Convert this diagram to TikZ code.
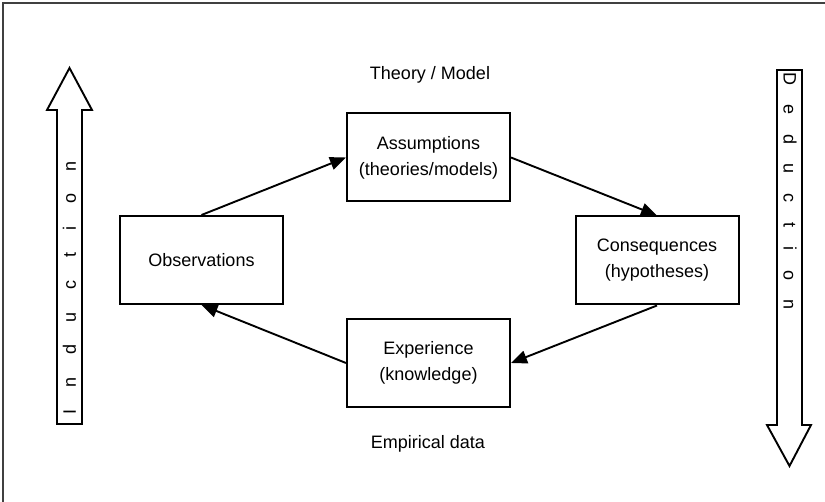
\documentclass[tikz,border=0pt]{standalone}
\usepackage{fontspec}
\setmainfont{Liberation Sans}
\usetikzlibrary{arrows.meta, positioning}

\newcommand{\spreadout}[2]{\foreach \ch [count=\k] in {#2}{\ifnum\k>1\hspace{#1}\fi\ch}}

\begin{document}
\begin{tikzpicture}[x=1pt, y=-1pt,
    stage/.style={draw, line width=2pt, minimum width=163pt, minimum height=88pt, align=center, font=\fontsize{18}{26}\selectfont},
    caption/.style={font=\fontsize{18}{26}\selectfont},
    flow/.style={-{Triangle[length=16pt, width=13pt]}, line width=1.9pt},
    blockarrow/.style={draw, line width=1.9pt, line join=miter}]
    \useasboundingbox (0,0) rectangle (825,502);

    % frame
    \draw[line width=1.5pt, black!75] (825,3) -- (3,3) -- (3,502);

    % the four stages
    \node[stage] (obs) at (201.5,260) {Observations};
    \node[stage] (ass) at (428.5,157.5) {Assumptions\\(theories/models)};
    \node[stage] (con) at (657,260.5) {Consequences\\(hypotheses)};
    \node[stage] (exp) at (428.5,363) {Experience\\(knowledge)};

    \node[caption] (theory) at (430,75) {Theory / Model};
    \node[caption] (empirical) at (428,444) {Empirical data};

    \draw[flow] (obs.north) -- (ass.west);
    \draw[flow] (ass.east) -- (con.north);
    \draw[flow] (con.south) -- (exp.east);
    \draw[flow] (exp.west) -- (obs.south);

    % induction / deduction arrows
    \draw[blockarrow] (57,424) -- (57,110) -- (47,110) -- (69.5,68) -- (92,110) -- (82,110) -- (82,424) -- cycle;
    \draw[blockarrow] (777,70) -- (802,70) -- (802,425) -- (811,425) -- (789.5,466) -- (767,425) -- (777,425) -- cycle;

    \node[caption, rotate=90] (induction) at (69.5,288) {\spreadout{22.6pt}{I,n,d,u,c,t,i,o,n}};
    \node[caption, rotate=-90] (deduction) at (790,191) {\spreadout{19.6pt}{D,e,d,u,c,t,i,o,n}};
\end{tikzpicture}
\end{document}
